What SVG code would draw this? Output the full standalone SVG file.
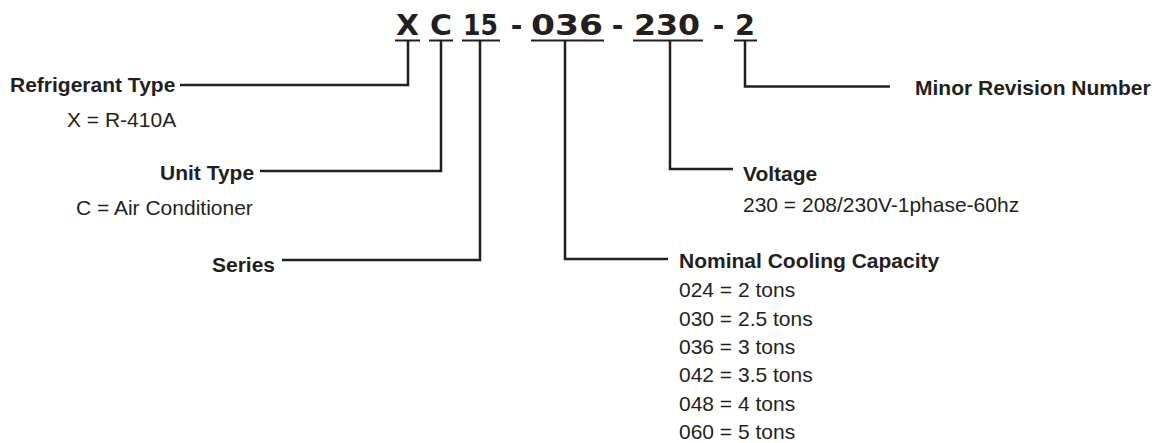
<svg xmlns="http://www.w3.org/2000/svg" width="1163" height="443" viewBox="0 0 1163 443">
<style>
.t{font-family:"DejaVu Sans","Liberation Sans",sans-serif;font-weight:bold;font-size:28px;fill:#231f20}
.h{font-family:"DejaVu Sans","Liberation Sans",sans-serif;font-weight:bold;font-size:28px;fill:#231f20;text-anchor:middle}
.b{font-family:"Liberation Sans",Arial,sans-serif;font-weight:bold;font-size:21px;fill:#231f20}
.r{font-family:"Liberation Sans",Arial,sans-serif;font-size:21px;fill:#231f20}
.u{stroke:#231f20;stroke-width:2;fill:none}
.c{stroke:#231f20;stroke-width:2.5;fill:none}
</style>
<rect width="1163" height="443" fill="#ffffff"/>
<g id="model-code">
<text class="t" x="396" y="35" textLength="23" lengthAdjust="spacingAndGlyphs">X</text>
<text class="t" x="430" y="35" textLength="22" lengthAdjust="spacingAndGlyphs">C</text>
<text class="t" x="463" y="35" textLength="35" lengthAdjust="spacingAndGlyphs">15</text>
<text class="h" x="516.5" y="35">-</text>
<text class="t" x="531" y="35" textLength="72" lengthAdjust="spacingAndGlyphs">036</text>
<text class="h" x="617.5" y="35">-</text>
<text class="t" x="634" y="35" textLength="66" lengthAdjust="spacingAndGlyphs">230</text>
<text class="h" x="718.5" y="35">-</text>
<text class="t" x="735" y="35" textLength="20" lengthAdjust="spacingAndGlyphs">2</text>
<path class="u" d="M395,40.5H420M429,40.5H453M462,40.5H500M531,40.5H604M633,40.5H703M734,40.5H757"/>
</g>
<g id="connectors">
<path class="c" d="M408,40V85H180"/>
<path class="c" d="M441,40V171H260"/>
<path class="c" d="M480,40V260H282"/>
<path class="c" d="M565,40V259H668"/>
<path class="c" d="M670,40V169H733"/>
<path class="c" d="M745,40V86.5H890"/>
</g>
<g id="refrigerant-type">
<text class="b" x="10" y="92">Refrigerant Type</text>
<text class="r" x="67" y="127">X = R-410A</text>
</g>
<g id="unit-type">
<text class="b" x="160" y="180">Unit Type</text>
<text class="r" x="76" y="215">C = Air Conditioner</text>
</g>
<g id="series">
<text class="b" x="212" y="272">Series</text>
</g>
<g id="nominal-cooling-capacity">
<text class="b" x="679" y="268">Nominal Cooling Capacity</text>
<text class="r" x="679" y="297">024 = 2 tons</text>
<text class="r" x="679" y="326">030 = 2.5 tons</text>
<text class="r" x="679" y="354">036 = 3 tons</text>
<text class="r" x="679" y="382">042 = 3.5 tons</text>
<text class="r" x="679" y="411">048 = 4 tons</text>
<text class="r" x="679" y="439">060 = 5 tons</text>
</g>
<g id="voltage">
<text class="b" x="743" y="181">Voltage</text>
<text class="r" x="743" y="212">230 = 208/230V-1phase-60hz</text>
</g>
<g id="minor-revision">
<text class="b" x="915" y="95">Minor Revision Number</text>
</g>
</svg>
